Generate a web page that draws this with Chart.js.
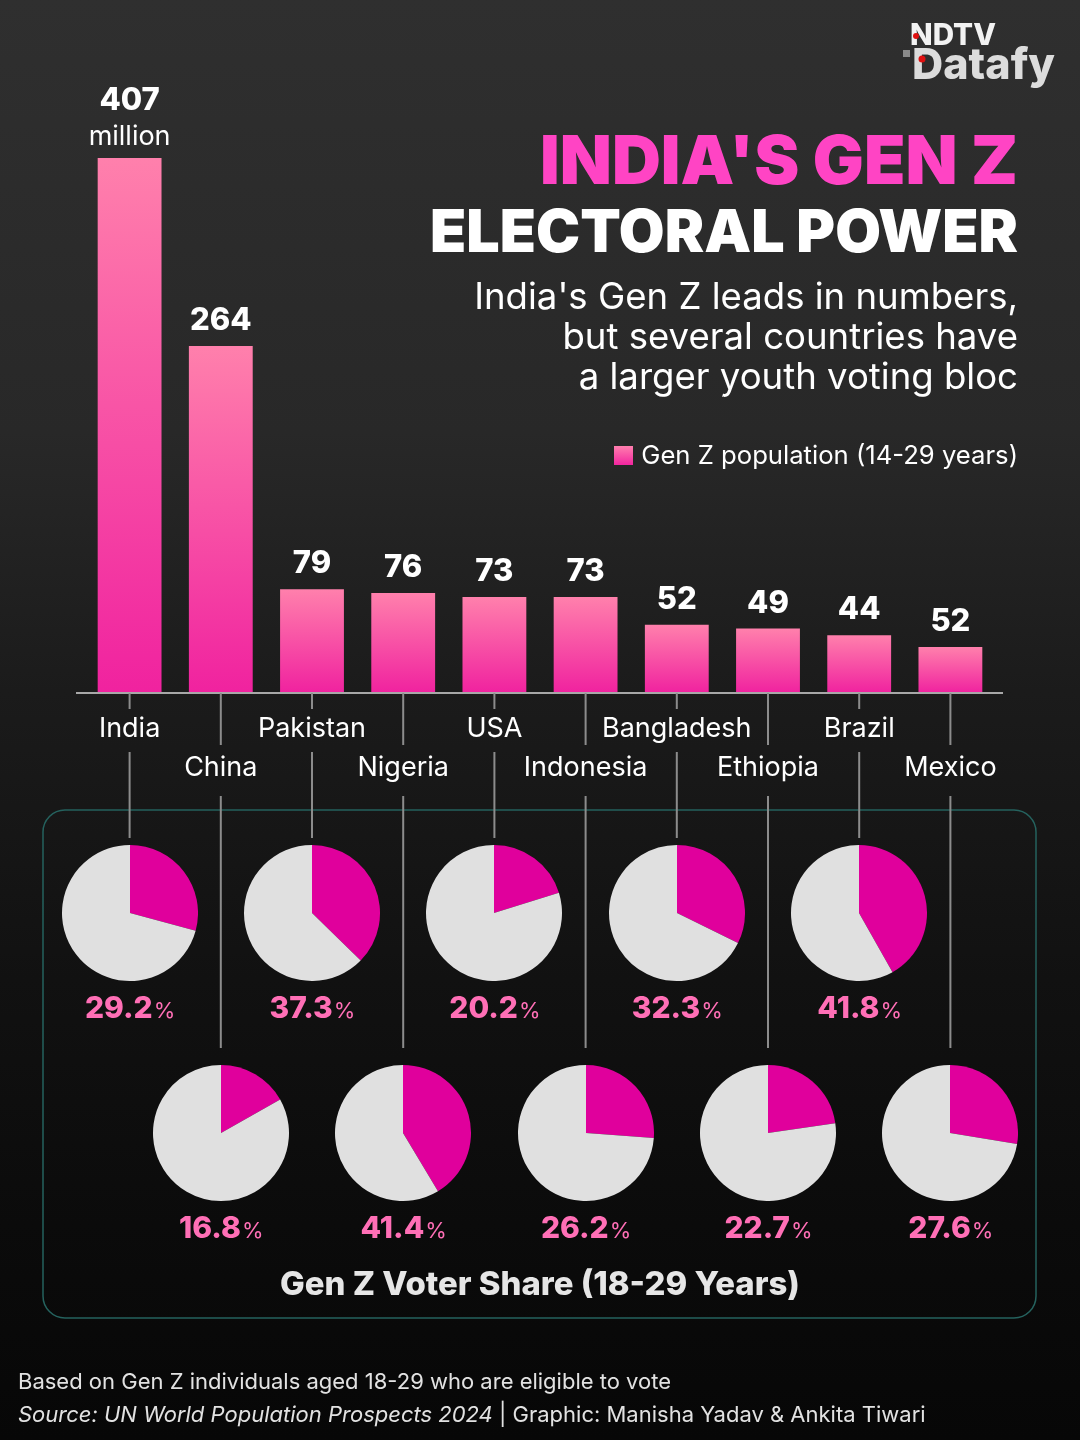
<!DOCTYPE html>
<html>
<head>
<meta charset="utf-8">
<script src="https://cdn.jsdelivr.net/npm/chart.js@4.4.1/dist/chart.umd.min.js"></script>
<style>
  html, body { margin: 0; padding: 0; }
  body {
    width: 1080px; height: 1440px; position: relative; overflow: hidden;
    background: linear-gradient(#2f2f2f 0%, #282828 30%, #1b1b1b 48%, #111111 68%, #0b0b0b 85%, #070707 100%);
    font-family: Inter, "Noto Sans", sans-serif;
  }
  #main { position: absolute; left: 0; top: 0; }
  .pie { position: absolute; }
</style>
</head>
<body>
<canvas id="main" width="1080" height="1440"></canvas>

<script>
// categories
const countries = ["India", "China", "Pakistan", "Nigeria", "USA", "Indonesia", "Bangladesh", "Ethiopia", "Brazil", "Mexico"];
// Gen Z population (millions), bar heights as drawn in the graphic
const barValues = [407, 264, 79, 76, 73, 73, 52, 49, 44, 35];
// labels printed above the bars (Mexico's bar is drawn shorter than its label)
const barLabels = ["407", "264", "79", "76", "73", "73", "52", "49", "44", "52"];
// Gen Z voter share (%)
const voterShare = [29.2, 16.8, 37.3, 41.4, 20.2, 26.2, 32.3, 22.7, 41.8, 27.6];

const FONT = "Inter, 'Noto Sans', sans-serif";
const PINK = "#e0009c";
const PIE_GREY = "#e0e0e0";

function txt(ctx, s, x, y, font, color, align) {
  ctx.font = font;
  ctx.fillStyle = color;
  ctx.textAlign = align || "center";
  ctx.textBaseline = "middle";
  ctx.fillText(s, x, y);
}

// font size so the text spans the wanted width
function fitSize(ctx, s, style, target) {
  ctx.font = style + " 100px " + FONT;
  return 100 * target / ctx.measureText(s).width;
}

const overlay = {
  id: "overlay",
  afterDraw(chart) {
    const ctx = chart.ctx;
    const xs = chart.scales.x;
    const base = chart.scales.y.getPixelForValue(0);
    ctx.save();

    // logo
    let s = fitSize(ctx, "NDTV", "800", 86);
    txt(ctx, "NDTV", 910, 36, "800 " + s + "px " + FONT, "#f2f2f2", "left");
    ctx.fillStyle = "#e01010";
    ctx.beginPath(); ctx.arc(916, 36, 3, 0, Math.PI * 2); ctx.fill();
    s = fitSize(ctx, "Datafy", "800", 143);
    txt(ctx, "Datafy", 912, 66, "800 " + s + "px " + FONT, "#dcdcdc", "left");
    ctx.fillStyle = "#8a8a8a";
    ctx.fillRect(903, 50, 7, 7);
    ctx.fillStyle = "#e01010";
    ctx.beginPath(); ctx.arc(922, 59, 3.5, 0, Math.PI * 2); ctx.fill();

    // titles
    s = fitSize(ctx, "INDIA'S GEN Z", "900", 478);
    txt(ctx, "INDIA'S GEN Z", 1018, 164, "900 " + s + "px " + FONT, "#ff44c4", "right");
    s = fitSize(ctx, "ELECTORAL POWER", "900", 588);
    txt(ctx, "ELECTORAL POWER", 1018, 234, "900 " + s + "px " + FONT, "#ffffff", "right");
    s = fitSize(ctx, "India's Gen Z leads in numbers,", "400", 544);
    const sub = ["India's Gen Z leads in numbers,", "but several countries have", "a larger youth voting bloc"];
    sub.forEach((l, i) => txt(ctx, l, 1018, 298 + i * 40, "400 " + s + "px " + FONT, "#ffffff", "right"));

    // legend
    const lg = ctx.createLinearGradient(0, 446, 0, 465);
    lg.addColorStop(0, "#ff7fae"); lg.addColorStop(1, "#f2259f");
    ctx.fillStyle = lg;
    ctx.fillRect(614, 446, 19, 19);
    s = fitSize(ctx, "Gen Z population (14-29 years)", "400", 377);
    txt(ctx, "Gen Z population (14-29 years)", 1018, 456, "400 " + s + "px " + FONT, "#ffffff", "right");

    // value labels
    const meta = chart.getDatasetMeta(0);
    meta.data.forEach((bar, i) => {
      const ly = i === 0 ? bar.y - 57 : bar.y - 25;
      txt(ctx, barLabels[i], bar.x, ly, "800 31px " + FONT, "#ffffff");
    });
    txt(ctx, "million", meta.data[0].x, 137, "400 27px " + FONT, "#ffffff");

    // baseline
    ctx.strokeStyle = "#a8a8a8";
    ctx.lineWidth = 2;
    ctx.beginPath(); ctx.moveTo(76, base); ctx.lineTo(1003, base); ctx.stroke();

    // panel box
    ctx.strokeStyle = "#25625e";
    ctx.lineWidth = 1.5;
    ctx.beginPath(); ctx.roundRect(43, 810, 993, 508, 22); ctx.stroke();

    // connectors + country labels + percents
    ctx.strokeStyle = "#8c8c8c";
    ctx.lineWidth = 2;
    countries.forEach((c, i) => {
      const x = xs.getPixelForValue(i);
      const top = i % 2 === 0;
      ctx.beginPath();
      if (top) {
        ctx.moveTo(x, base); ctx.lineTo(x, 709);
        ctx.moveTo(x, 752); ctx.lineTo(x, 838);
      } else {
        ctx.moveTo(x, base); ctx.lineTo(x, 745);
        ctx.moveTo(x, 796); ctx.lineTo(x, 1048);
      }
      ctx.stroke();
      txt(ctx, c, x, top ? 729 : 768, "400 27px " + FONT, "#ffffff");

      const num = voterShare[i].toFixed(1);
      const py = top ? 1009 : 1229;
      ctx.font = "800 30px " + FONT;
      const w1 = ctx.measureText(num).width;
      ctx.font = "400 22px " + FONT;
      const w2 = ctx.measureText("%").width;
      const x0 = x - (w1 + w2) / 2;
      txt(ctx, num, x0, py, "800 30px " + FONT, "#ff6fb6", "left");
      txt(ctx, "%", x0 + w1 + 1, py + 2, "400 22px " + FONT, "#ff6fb6", "left");
    });

    s = fitSize(ctx, "Gen Z Voter Share (18-29 Years)", "800", 520);
    txt(ctx, "Gen Z Voter Share (18-29 Years)", 540, 1285, "800 " + s + "px " + FONT, "#e6e6e6");

    // footer
    txt(ctx, "Based on Gen Z individuals aged 18-29 who are eligible to vote", 18, 1382, "400 22px " + FONT, "#e2e2e2", "left");
    const src = "Source: UN World Population Prospects 2024";
    txt(ctx, src, 18, 1415, "italic 400 22px " + FONT, "#e2e2e2", "left");
    ctx.font = "italic 400 22px " + FONT;
    const sw = ctx.measureText(src).width;
    txt(ctx, " | Graphic: Manisha Yadav & Ankita Tiwari", 18 + sw, 1415, "400 22px " + FONT, "#e2e2e2", "left");

    ctx.restore();
  }
};

const mainChart = new Chart(document.getElementById("main"), {
  type: "bar",
  data: {
    labels: countries,
    datasets: [{
      label: "Gen Z population (14-29 years)",
      data: barValues,
      backgroundColor: function (context) {
        const chart = context.chart;
        const y = chart.scales.y;
        if (!y || context.type !== "data") return "#f2259f";
        const top = y.getPixelForValue(barValues[context.dataIndex]);
        const bot = y.getPixelForValue(0);
        if (!isFinite(top) || !isFinite(bot)) return "#f2259f";
        const g = chart.ctx.createLinearGradient(0, top, 0, bot);
        g.addColorStop(0, "#ff80ac");
        g.addColorStop(1, "#f0229f");
        return g;
      },
      borderWidth: 0,
      barPercentage: 0.70,
      categoryPercentage: 1.0
    }]
  },
  options: {
    responsive: false,
    animation: false,
    events: [],
    layout: { padding: { left: 84, right: 84, top: 158, bottom: 747 } },
    scales: {
      x: { display: false },
      y: { display: false, min: 0, max: 407 }
    },
    plugins: { legend: { display: false }, tooltip: { enabled: false } }
  },
  plugins: [overlay]
});

// one small pie per country, placed under its bar
const PIE = 136;
countries.forEach((c, i) => {
  const x = mainChart.scales.x.getPixelForValue(i);
  const cy = i % 2 === 0 ? 913 : 1133;
  const cv = document.createElement("canvas");
  cv.className = "pie";
  cv.width = PIE; cv.height = PIE;
  cv.style.left = (x - PIE / 2) + "px";
  cv.style.top = (cy - PIE / 2) + "px";
  document.body.appendChild(cv);
  new Chart(cv, {
    type: "pie",
    data: {
      labels: ["Gen Z voters", "Others"],
      datasets: [{
        data: [voterShare[i], 100 - voterShare[i]],
        backgroundColor: [PINK, PIE_GREY],
        borderWidth: 0
      }]
    },
    options: {
      responsive: false,
      animation: false,
      events: [],
      plugins: { legend: { display: false }, tooltip: { enabled: false } }
    }
  });
});
</script>
</body>
</html>
